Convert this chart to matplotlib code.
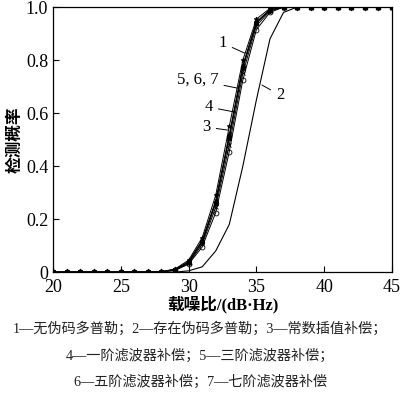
import numpy as np
import matplotlib
matplotlib.use("Agg")
from matplotlib import pyplot as plt

plt.rcParams['font.family'] = ['Liberation Serif', 'Noto Sans CJK SC']

# carrier-to-noise ratio, dB-Hz
cn0 = list(range(20, 46))

def pad(vals, start=28, n=26):
    # zeros below `start`, given values, then ones
    out = [0.0] * (start - 20) + list(vals)
    return out + [1.0] * (n - len(out))

curve1 = pad([0.002, 0.012, 0.045, 0.13, 0.29, 0.55, 0.80, 0.955, 0.995])
curve2 = pad([0.0, 0.0, 0.005, 0.02, 0.08, 0.18, 0.40, 0.65, 0.88, 0.98])
curve3 = pad([0.001, 0.007, 0.030, 0.095, 0.225, 0.455, 0.725, 0.915, 0.98])
curve4 = pad([0.001, 0.008, 0.033, 0.105, 0.245, 0.48, 0.75, 0.93, 0.985])
curve5 = pad([0.002, 0.010, 0.040, 0.120, 0.27, 0.52, 0.78, 0.945, 0.99])
curve6 = pad([0.002, 0.009, 0.038, 0.115, 0.265, 0.51, 0.775, 0.94, 0.99])
curve7 = pad([0.002, 0.009, 0.037, 0.113, 0.26, 0.505, 0.77, 0.94, 0.99])

series = [
    (curve1, '*', 'k'),
    (curve3, 'o', 'none'),
    (curve4, 'x', 'k'),
    (curve5, '^', 'k'),
    (curve6, 'd', 'k'),
    (curve7, 's', 'none'),
]

fig = plt.figure(figsize=(4, 3.95), dpi=100)
ax = fig.add_axes([0.1325, 0.311, 0.8475, 0.671])

for y, m, fc in series:
    ax.plot(cn0, y, color='k', lw=0.7, marker=m, ms=3.5,
            markerfacecolor=fc, markeredgecolor='k', markeredgewidth=0.6)
ax.plot(cn0, curve2, color='k', lw=0.8)

ax.set_xlim(20, 45)
ax.set_ylim(0, 1.0)
ax.set_xticks([20, 25, 30, 35, 40, 45])
ax.set_yticks([0, 0.2, 0.4, 0.6, 0.8, 1.0])
ax.set_yticklabels(['0', '0.2', '0.4', '0.6', '0.8', '1.0'])
ax.tick_params(direction='in', labelsize=13, length=4, width=0.8)
ax.tick_params(axis='x', pad=5)
for s in ax.spines.values():
    s.set_linewidth(0.9)

ax.set_xlabel('载噪比/(dB·Hz)', fontsize=12, fontweight='bold', labelpad=0)
ax.set_ylabel('检测概率', fontsize=12, fontweight='bold', labelpad=2)

labels = [
    ('1', (32.52, 0.864), (34.15, 0.826)),
    ('5, 6, 7', (30.67, 0.725), (33.63, 0.694)),
    ('4', (31.48, 0.623), (33.41, 0.604)),
    ('3', (31.33, 0.547), (32.89, 0.536)),
    ('2', (36.74, 0.668), (35.41, 0.706)),
]
for txt, tpos, apos in labels:
    ax.annotate(txt, xy=apos, xytext=tpos, fontsize=12, ha='center', va='center',
                arrowprops=dict(arrowstyle='-', lw=0.7, color='k', shrinkA=2, shrinkB=0))

caption = [
    '1—无伪码多普勒；2—存在伪码多普勒；3—常数插值补偿；',
    '4—一阶滤波器补偿；5—三阶滤波器补偿；',
    '6—五阶滤波器补偿；7—七阶滤波器补偿',
]
for i, line in enumerate(caption):
    fig.text(0.5, 1 - (329 + i * 26.5) / 395, line, ha='center', va='center',
             fontsize=10.2, color='#222222')

fig.savefig('out.png', dpi=100)
